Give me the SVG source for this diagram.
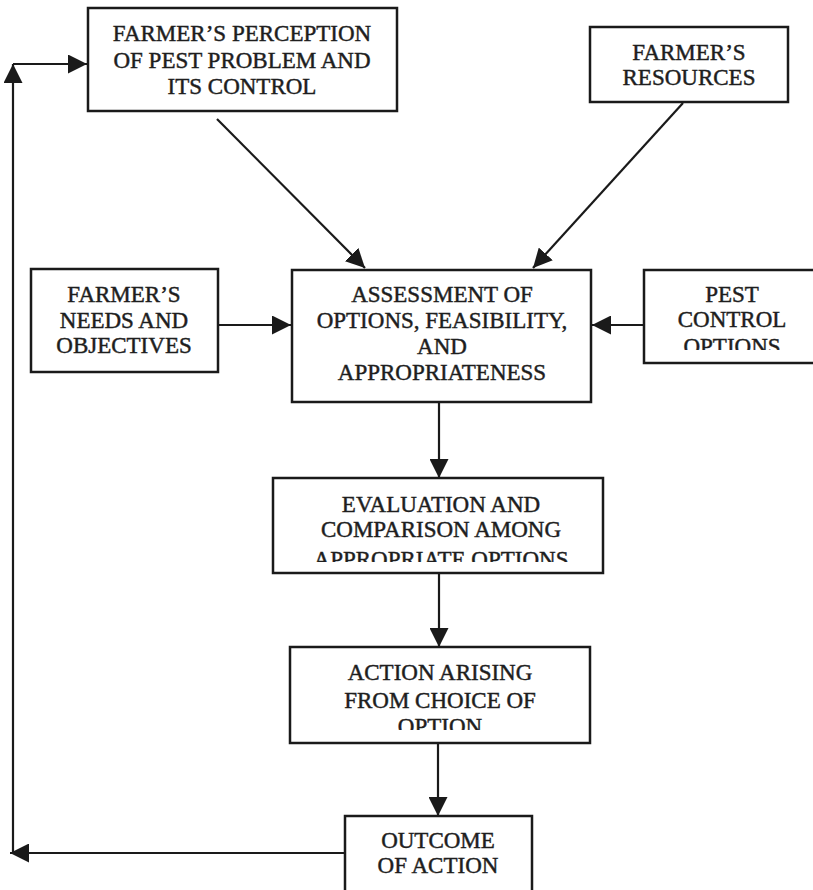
<svg xmlns="http://www.w3.org/2000/svg" width="813" height="890" viewBox="0 0 813 890">
<style>
.box{fill:#fff;stroke:#1a1a1a;stroke-width:2.5}
.t{font-family:"Liberation Serif","Times New Roman",serif;font-size:23px;fill:#1e1e1e;stroke:#1e1e1e;stroke-width:0.45;text-anchor:middle}
.c{fill:none;stroke:#1a1a1a;stroke-width:2.2}
</style>
<defs>
<marker id="ah" viewBox="0 0 20 20" refX="20" refY="10" markerWidth="19" markerHeight="19" markerUnits="userSpaceOnUse" orient="auto">
<path d="M0,0 L20,10 L0,20 z" fill="#1a1a1a"/>
</marker>
<clipPath id="clipPest"><rect x="600" y="260" width="213" height="90"/></clipPath>
<clipPath id="clipEval"><rect x="260" y="470" width="360" height="92"/></clipPath>
<clipPath id="clipAction"><rect x="280" y="640" width="320" height="90"/></clipPath>
</defs>
<rect width="813" height="890" fill="#fff"/>
<g id="connectors">
<line class="c" x1="217" y1="119" x2="365" y2="268" marker-end="url(#ah)"/>
<line class="c" x1="683" y1="103" x2="533" y2="268" marker-end="url(#ah)"/>
<line class="c" x1="218" y1="325" x2="291" y2="325" marker-end="url(#ah)"/>
<line class="c" x1="644" y1="325" x2="592" y2="325" marker-end="url(#ah)"/>
<line class="c" x1="439" y1="402" x2="439" y2="478" marker-end="url(#ah)"/>
<line class="c" x1="439" y1="573" x2="439" y2="647" marker-end="url(#ah)"/>
<line class="c" x1="438" y1="743" x2="438" y2="816" marker-end="url(#ah)"/>
<line class="c" x1="345" y1="853" x2="10" y2="853" marker-end="url(#ah)"/>
<line class="c" x1="13" y1="853" x2="13" y2="64" marker-end="url(#ah)"/>
<line class="c" x1="13" y1="64" x2="87" y2="64" marker-end="url(#ah)"/>
</g>
<g id="perception">
<rect class="box" x="88" y="8" width="309" height="103"/>
<text class="t" x="242" y="41">FARMER’S PERCEPTION</text>
<text class="t" x="242" y="68">OF PEST PROBLEM AND</text>
<text class="t" x="242" y="94">ITS CONTROL</text>
</g>
<g id="resources">
<rect class="box" x="590" y="27" width="198" height="75"/>
<text class="t" x="689" y="60">FARMER’S</text>
<text class="t" x="689" y="85">RESOURCES</text>
</g>
<g id="needs">
<rect class="box" x="31" y="269" width="187" height="103"/>
<text class="t" x="124" y="302">FARMER’S</text>
<text class="t" x="124" y="328">NEEDS AND</text>
<text class="t" x="124" y="353">OBJECTIVES</text>
</g>
<g id="assessment">
<rect class="box" x="292" y="270" width="299" height="132"/>
<text class="t" x="442" y="302">ASSESSMENT OF</text>
<text class="t" x="442" y="328">OPTIONS, FEASIBILITY,</text>
<text class="t" x="442" y="354">AND</text>
<text class="t" x="442" y="380">APPROPRIATENESS</text>
</g>
<g id="pest-options">
<rect class="box" x="644" y="270" width="176" height="93"/>
<text class="t" x="732" y="302">PEST</text>
<text class="t" x="732" y="327">CONTROL</text>
<text class="t" x="732" y="354" clip-path="url(#clipPest)">OPTIONS</text>
</g>
<g id="evaluation">
<rect class="box" x="273" y="478" width="330" height="95"/>
<text class="t" x="441" y="512">EVALUATION AND</text>
<text class="t" x="441" y="537">COMPARISON AMONG</text>
<text class="t" x="441" y="567" clip-path="url(#clipEval)">APPROPRIATE OPTIONS</text>
</g>
<g id="action">
<rect class="box" x="290" y="647" width="300" height="96"/>
<text class="t" x="440" y="680">ACTION ARISING</text>
<text class="t" x="440" y="708">FROM CHOICE OF</text>
<text class="t" x="440" y="734" clip-path="url(#clipAction)">OPTION</text>
</g>
<g id="outcome">
<rect class="box" x="345" y="816" width="187" height="80"/>
<text class="t" x="438" y="848">OUTCOME</text>
<text class="t" x="438" y="873">OF ACTION</text>
</g>
</svg>
